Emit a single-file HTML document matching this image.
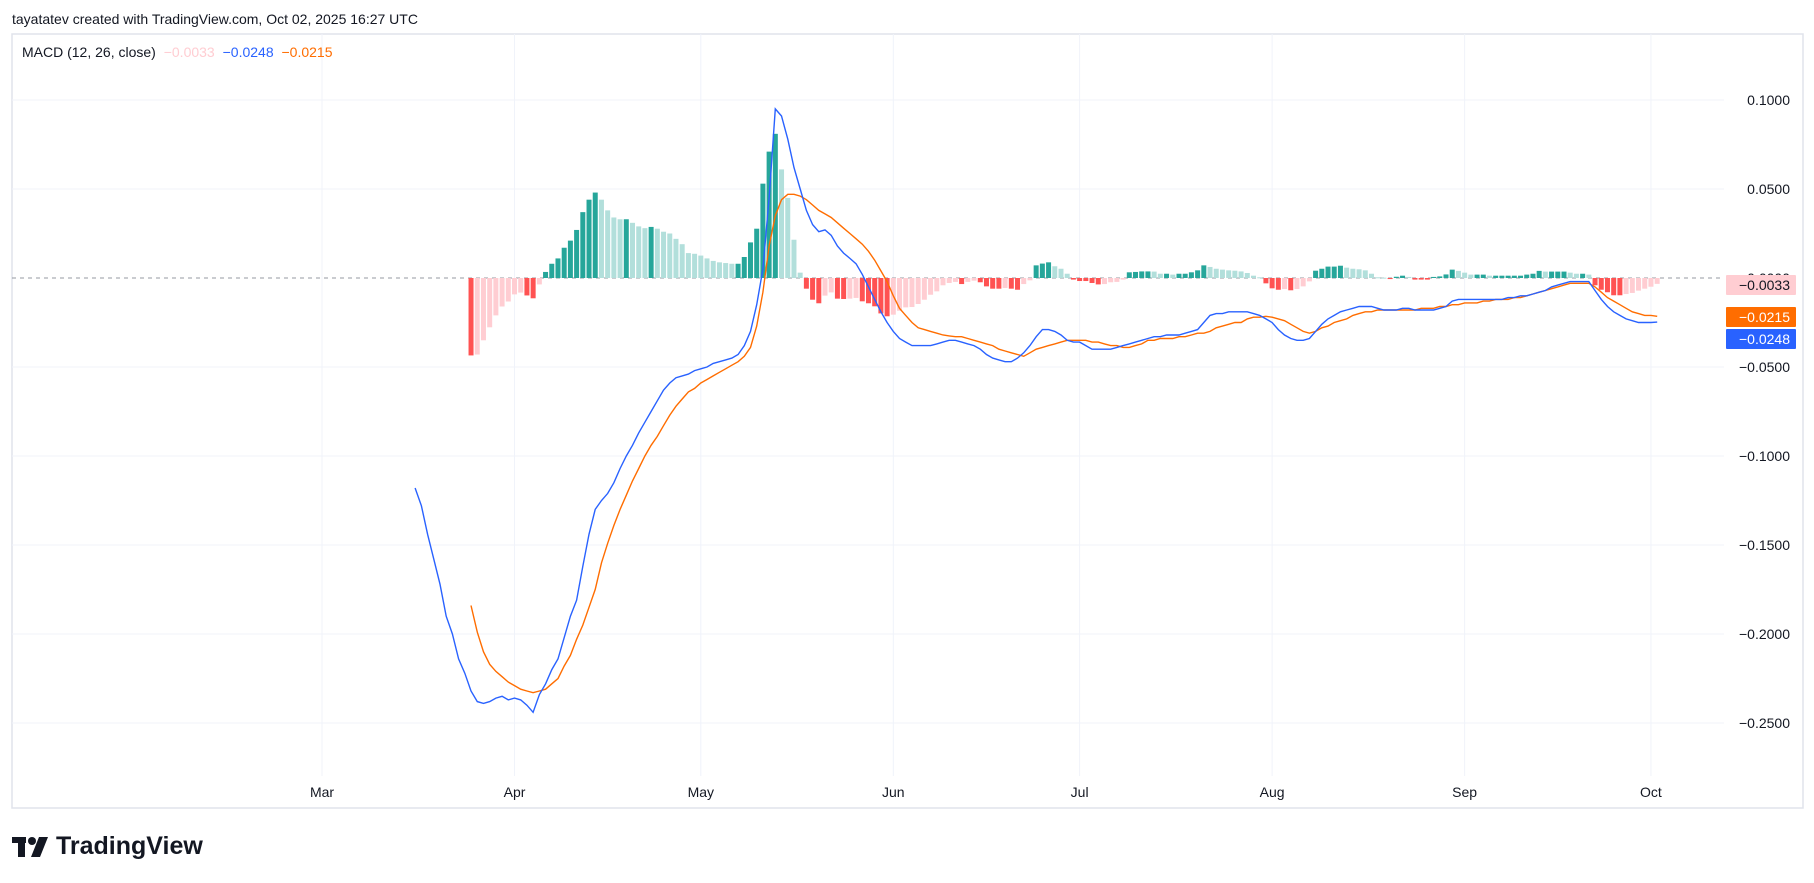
<!DOCTYPE html>
<html><head><meta charset="utf-8"><style>
body{margin:0;width:1814px;height:883px;background:#fff;font-family:"Liberation Sans",sans-serif;overflow:hidden;position:relative}
.t{position:absolute;white-space:nowrap}
</style></head><body>
<div class="t" style="left:12px;top:11px;font-size:14px;color:#131722">tayatatev created with TradingView.com, Oct 02, 2025 16:27 UTC</div>
<svg id="chart" width="1814" height="883" style="position:absolute;left:0;top:0"></svg>
<div class="t" style="left:22px;top:44px;font-size:14px;color:#131722">MACD (12, 26, close) <span style="color:#ffcdd2;margin-left:4px">−0.0033</span> <span style="color:#2962ff;margin-left:4px">−0.0248</span> <span style="color:#ff6d00;margin-left:4px">−0.0215</span></div>
<div style="position:absolute;left:12px;top:832px;height:30px">
<svg width="38" height="24" style="position:absolute;left:0;top:3px"><rect x="0" y="2" width="14" height="6" fill="#131722"/><rect x="6" y="2" width="7" height="20" fill="#131722"/><circle cx="20" cy="6" r="4" fill="#131722"/><polygon points="27,2 36,2 28,22 19,22" fill="#131722"/></svg>
<div class="t" style="left:44px;top:0;font-size:25px;font-weight:bold;color:#131722">TradingView</div></div>
<script>
const macdStart=15, signalStart=24, histStart=24;
const macd=[-0.118,-0.128,-0.144,-0.158,-0.172,-0.190,-0.200,-0.214,-0.222,-0.232,-0.238,-0.239,-0.238,-0.236,-0.235,-0.237,-0.236,-0.237,-0.240,-0.244,-0.234,-0.228,-0.220,-0.214,-0.202,-0.190,-0.181,-0.162,-0.144,-0.130,-0.125,-0.121,-0.115,-0.107,-0.100,-0.094,-0.087,-0.081,-0.075,-0.069,-0.063,-0.059,-0.056,-0.055,-0.054,-0.052,-0.051,-0.050,-0.048,-0.047,-0.046,-0.045,-0.043,-0.038,-0.030,-0.015,0.005,0.045,0.095,0.091,0.078,0.062,0.050,0.038,0.030,0.026,0.027,0.024,0.018,0.014,0.011,0.008,0.002,-0.005,-0.012,-0.019,-0.025,-0.030,-0.034,-0.036,-0.038,-0.038,-0.038,-0.038,-0.037,-0.036,-0.035,-0.035,-0.036,-0.037,-0.038,-0.040,-0.043,-0.045,-0.046,-0.047,-0.047,-0.045,-0.042,-0.038,-0.033,-0.029,-0.029,-0.030,-0.032,-0.035,-0.036,-0.036,-0.038,-0.040,-0.040,-0.040,-0.040,-0.039,-0.038,-0.037,-0.036,-0.035,-0.034,-0.033,-0.033,-0.032,-0.032,-0.032,-0.031,-0.030,-0.029,-0.025,-0.021,-0.020,-0.020,-0.019,-0.019,-0.019,-0.019,-0.020,-0.021,-0.023,-0.025,-0.029,-0.032,-0.034,-0.035,-0.035,-0.034,-0.030,-0.026,-0.023,-0.021,-0.019,-0.018,-0.017,-0.016,-0.016,-0.016,-0.017,-0.018,-0.018,-0.018,-0.017,-0.017,-0.018,-0.018,-0.018,-0.018,-0.017,-0.016,-0.013,-0.012,-0.012,-0.012,-0.012,-0.012,-0.012,-0.012,-0.012,-0.011,-0.011,-0.010,-0.010,-0.009,-0.008,-0.007,-0.005,-0.004,-0.003,-0.002,-0.002,-0.002,-0.002,-0.007,-0.012,-0.016,-0.019,-0.021,-0.023,-0.024,-0.025,-0.025,-0.025,-0.0248];
const signal=[-0.184,-0.199,-0.210,-0.217,-0.221,-0.224,-0.227,-0.229,-0.231,-0.232,-0.233,-0.232,-0.231,-0.228,-0.225,-0.218,-0.212,-0.203,-0.195,-0.185,-0.175,-0.160,-0.149,-0.139,-0.130,-0.122,-0.114,-0.107,-0.100,-0.094,-0.089,-0.083,-0.077,-0.072,-0.068,-0.064,-0.062,-0.059,-0.057,-0.055,-0.053,-0.051,-0.049,-0.047,-0.044,-0.039,-0.027,-0.008,0.018,0.035,0.044,0.047,0.047,0.046,0.044,0.041,0.038,0.036,0.034,0.031,0.028,0.025,0.022,0.019,0.015,0.010,0.004,-0.002,-0.010,-0.017,-0.021,-0.025,-0.028,-0.029,-0.030,-0.031,-0.032,-0.0325,-0.033,-0.033,-0.034,-0.035,-0.036,-0.037,-0.038,-0.040,-0.041,-0.042,-0.043,-0.044,-0.042,-0.040,-0.039,-0.038,-0.037,-0.036,-0.035,-0.035,-0.035,-0.035,-0.036,-0.036,-0.037,-0.038,-0.038,-0.039,-0.039,-0.038,-0.037,-0.035,-0.035,-0.034,-0.034,-0.034,-0.033,-0.033,-0.032,-0.031,-0.031,-0.030,-0.028,-0.027,-0.026,-0.025,-0.025,-0.023,-0.022,-0.022,-0.0215,-0.022,-0.023,-0.024,-0.026,-0.028,-0.030,-0.031,-0.030,-0.028,-0.027,-0.025,-0.024,-0.023,-0.021,-0.020,-0.019,-0.019,-0.018,-0.018,-0.018,-0.018,-0.018,-0.018,-0.018,-0.017,-0.017,-0.017,-0.016,-0.016,-0.015,-0.015,-0.014,-0.014,-0.014,-0.013,-0.013,-0.012,-0.012,-0.012,-0.011,-0.011,-0.010,-0.009,-0.008,-0.007,-0.006,-0.005,-0.004,-0.003,-0.003,-0.003,-0.003,-0.005,-0.008,-0.011,-0.013,-0.015,-0.017,-0.019,-0.020,-0.021,-0.021,-0.0215];
const hist=[-0.0435,-0.043,-0.035,-0.0277,-0.021,-0.016,-0.0132,-0.0092,-0.0082,-0.0098,-0.0114,-0.0036,0.0034,0.008,0.011,0.017,0.021,0.027,0.037,0.044,0.048,0.044,0.038,0.034,0.033,0.033,0.031,0.029,0.028,0.0287,0.0277,0.026,0.025,0.022,0.019,0.014,0.0136,0.0126,0.011,0.0096,0.0088,0.0084,0.008,0.008,0.0118,0.020,0.0277,0.053,0.071,0.081,0.061,0.045,0.0215,0.003,
-0.0060,-0.0122,-0.0142,-0.0099,-0.0081,-0.0116,-0.0118,-0.0116,-0.0112,-0.0131,-0.0142,-0.0159,-0.0199,-0.0215,-0.0206,-0.0184,-0.0165,-0.0163,-0.0146,-0.0122,-0.0094,-0.0075,-0.0041,-0.0028,-0.0022,-0.0034,-0.0022,-0.0015,-0.0024,-0.0047,-0.0060,-0.0060,-0.0056,-0.0060,-0.0066,-0.0034,-0.0013,0.0071,0.0081,0.0088,0.0066,0.0052,0.0024,-0.0009,-0.0017,-0.0017,-0.0028,-0.0036,-0.0034,-0.0024,-0.0022,-0.0009,0.0032,0.0034,0.0037,0.0037,0.0036,0.0024,0.0024,0.0019,0.0024,0.0024,0.0032,0.0043,0.0071,0.0062,0.0052,0.0047,0.0043,0.0041,0.0037,0.0028,0.0013,0.0004,-0.0030,-0.0058,-0.0066,-0.0062,-0.0069,-0.0062,-0.0047,-0.0019,0.0041,0.0052,0.0064,0.0064,0.0069,0.0058,0.0052,0.0049,0.0043,0.0024,0.0004,0.0002,-0.0006,0.0007,0.0013,0.0006,-0.0009,-0.0009,-0.0009,0.0006,
0.0009,0.002,0.0047,0.004,0.003,0.0019,0.0019,0.0019,0.0013,0.0013,0.0013,0.0013,0.0013,0.0013,0.0019,0.0024,0.004,0.0036,0.0036,0.0036,0.0036,0.003,0.0024,0.0024,0.0019,-0.0041,-0.0066,-0.008,-0.0097,-0.0097,-0.009,-0.0084,-0.0071,-0.006,-0.0049,-0.0033];
const yTicks=[0.1,0.05,0,-0.05,-0.1,-0.15,-0.2,-0.25];
const monthLabels=["Mar","Apr","May","Jun","Jul","Aug","Sep","Oct"];
const monthDays=[0,31,61,92,122,153,184,214];

const NS="http://www.w3.org/2000/svg";
const svg=document.getElementById('chart');
const X=d=>322+d*6.21;
const Y=v=>278-v*1780;
function mk(tag,attrs,parent){const e=document.createElementNS(NS,tag);for(const k in attrs)e.setAttribute(k,attrs[k]);(parent||svg).appendChild(e);return e;}
const fmt=v=>(v<0?"−":"")+Math.abs(v).toFixed(4);

let e=mk('rect',{x:12,y:34,width:1791,height:774,fill:'none',stroke:'#e0e3eb','stroke-width':1.5});


yTicks.forEach(v=>{
  if(v!==0){let g=mk('line',{x1:12,x2:1724,y1:Y(v),y2:Y(v),stroke:'#f0f3fa'});
  
  }
  let t=mk('text',{x:1790,y:Y(v)+5,'text-anchor':'end','font-size':14,fill:'#131722','font-family':'Liberation Sans'});
  t.textContent=fmt(v);
  
  
});
monthDays.forEach((d,i)=>{
  let g=mk('line',{x1:X(d),x2:X(d),y1:34,y2:776,stroke:'#f0f3fa'});
  
  
  let t=mk('text',{x:X(d),y:797,'text-anchor':'middle','font-size':14,fill:'#131722','font-family':'Liberation Sans'});
  t.textContent=monthLabels[i];
  
  
});
e=mk('line',{x1:12,x2:1724,y1:Y(0),y2:Y(0),stroke:'#9598a1','stroke-dasharray':'4 4'});



let prev=null;
hist.forEach((h,i)=>{
  const d=histStart+i;
  let col;
  if(h>=0) col=(prev===null||h>=prev)?'#26a69a':'#b2dfdb';
  else col=(prev===null||h<=prev)?'#ff5252':'#ffcdd2';
  prev=h;
  const y0=Y(0),y1=Y(h);
  let b=mk('rect',{x:X(d)-2.5,y:Math.min(y0,y1),width:5,height:Math.max(1,Math.abs(y1-y0)),fill:col});
  
  
});
function line(arr,start,col,name){
  const p=arr.map((v,i)=>(i?'L':'M')+X(start+i).toFixed(1)+' '+Y(v).toFixed(1)).join(' ');
  let l=mk('path',{d:p,fill:'none',stroke:col,'stroke-width':1.4});
  
  
}
line(signal,signalStart,'#ff6d00','signal-line');
line(macd,macdStart,'#2962ff','macd-line');

const last=[[fmt(hist[hist.length-1]),'#ffcdd2','#131722',285,'histogram-price-label'],[fmt(signal[signal.length-1]),'#ff6d00','#fff',317,'signal-price-label'],[fmt(macd[macd.length-1]),'#2962ff','#fff',339,'macd-price-label']];
last.forEach(([txt,bg,fg,cy,name])=>{
  let g=mk('g',{});
  
  
  mk('rect',{x:1726,y:cy-10,width:70,height:20,fill:bg,rx:1},g);
  let t=mk('text',{x:1790,y:cy+5,'text-anchor':'end','font-size':14,fill:fg,'font-family':'Liberation Sans'},g);
  t.textContent=txt;
});
</script>
</body></html>
